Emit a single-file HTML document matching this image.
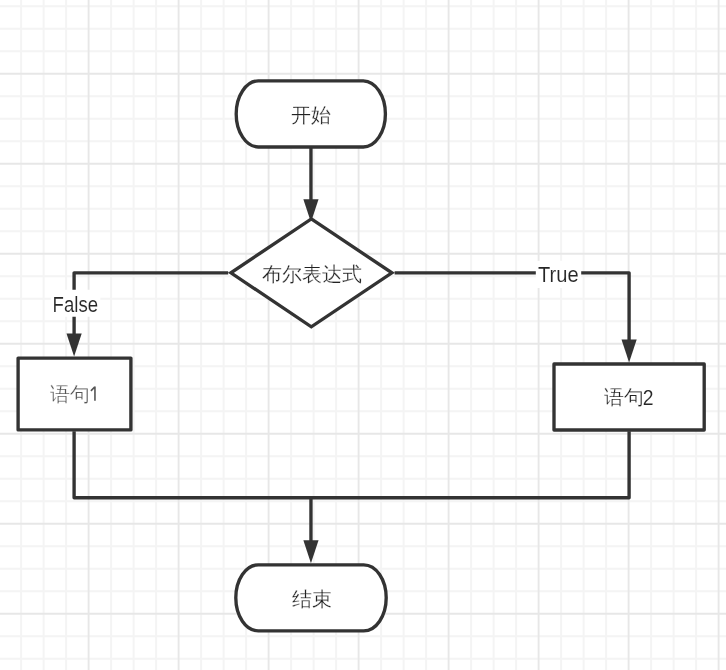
<!DOCTYPE html>
<html><head><meta charset="utf-8"><style>
html,body{margin:0;padding:0;background:#fff;width:726px;height:670px;overflow:hidden}
svg{display:block;will-change:transform}
text{font-family:"Liberation Sans",sans-serif;}
.c{stroke:#fff;stroke-width:0.25px;fill:#222}
.l{stroke:#fff;stroke-width:0.12px;fill:#262626}
</style></head><body>
<svg width="726" height="670" viewBox="0 0 726 670">
<rect width="726" height="670" fill="#ffffff"/>
<path d="M21.10 0V670M43.60 0V670M66.10 0V670M111.10 0V670M133.60 0V670M156.10 0V670M201.10 0V670M223.60 0V670M246.10 0V670M291.10 0V670M313.60 0V670M336.10 0V670M381.10 0V670M403.60 0V670M426.10 0V670M471.10 0V670M493.60 0V670M516.10 0V670M561.10 0V670M583.60 0V670M606.10 0V670M651.10 0V670M673.60 0V670M696.10 0V670M0 6.30H726M0 28.80H726M0 51.30H726M0 96.30H726M0 118.80H726M0 141.30H726M0 186.30H726M0 208.80H726M0 231.30H726M0 276.30H726M0 298.80H726M0 321.30H726M0 366.30H726M0 388.80H726M0 411.30H726M0 456.30H726M0 478.80H726M0 501.30H726M0 546.30H726M0 568.80H726M0 591.30H726M0 636.30H726M0 658.80H726" stroke="#f4f4f4" stroke-width="2" fill="none"/>
<path d="M88.60 0V670M178.60 0V670M268.60 0V670M358.60 0V670M448.60 0V670M538.60 0V670M628.60 0V670M718.60 0V670M0 73.80H726M0 163.80H726M0 253.80H726M0 343.80H726M0 433.80H726M0 523.80H726M0 613.80H726" stroke="#e7e7e7" stroke-width="1.9" fill="none"/>
<g stroke="#333333" stroke-width="3.35" fill="none" stroke-linejoin="round">
<path d="M310.95 147V201"/>
<path d="M228.2 272.85H74.1V336"/>
<path d="M394.6 272.85H629.1V342"/>
<path d="M74.1 431.2V497.7H629.1V431.2"/>
<path d="M310.95 497.7V541"/>
</g>
<g fill="#333333">
<path d="M303.35 199.30H318.55L310.95 222.30Z"/>
<path d="M66.50 333.60H81.70L74.10 356.60Z"/>
<path d="M621.50 339.60H636.70L629.10 362.60Z"/>
<path d="M303.35 540.20H318.55L310.95 563.20Z"/>
</g>
<g stroke="#333333" stroke-width="3.35" fill="#ffffff">
<path d="M258.30 80.85H363.30A22.5 33.08 0 0 1 363.30 147.00H258.30A22.5 33.08 0 0 1 258.30 80.85Z"/>
<path d="M311.3 218.9L391.9 272.85L311.3 326.8L230.9 272.85Z"/>
<rect x="18.1" y="358.1" width="112.8" height="71.8" stroke-linejoin="round"/>
<rect x="554" y="364" width="150.2" height="66" stroke-linejoin="round"/>
<path d="M258.30 564.80H363.70A22.5 33.05 0 0 1 363.70 630.90H258.30A22.5 33.05 0 0 1 258.30 564.80Z"/>
</g>
<rect x="50.8" y="289.75" width="49.6" height="27" fill="#fff"/>
<rect x="535.8" y="260.8" width="45.4" height="27.2" fill="#fff"/>
<g font-size="20" fill="#333">
<text x="290.8" y="121.6" class="c">开始</text>
<text x="311.6" y="280.5" text-anchor="middle" class="c">布尔表达式</text>
<text x="50.2" y="400.6" class="c" style="fill:#555">语句</text>
<path d="M90.9 390.9L94.6 387.1M94.95 386.6V400.8" stroke="#555" stroke-width="1.6" fill="none"/>
<text x="604" y="404.4" class="c">语句</text>
<text transform="translate(642.8 404.7) scale(0.9 1)" font-size="21.5" class="l">2</text>
<text x="311.7" y="605.5" text-anchor="middle" class="c">结束</text>
<text transform="translate(538.1 281.7) scale(0.935 1)" x="0" y="0" font-size="21.5" class="l">True</text>
<text transform="translate(54.3 311.6) scale(0.865 1)" x="-2" y="0" font-size="21.5" class="l">False</text>
</g>
</svg>
</body></html>
